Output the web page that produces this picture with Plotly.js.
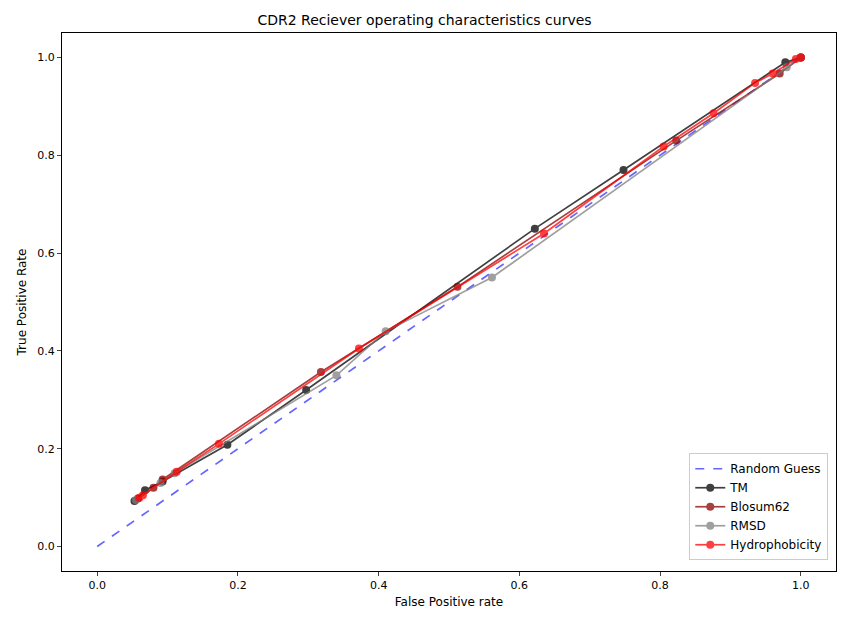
<!DOCTYPE html><html><head><script src="https://cdn.plot.ly/plotly-3.0.1.min.js"></script></head><body style="margin:0"><div id="g" style="width:849px;height:622px"></div><script>
const guessX=[0,1], guessY=[0,1];
const tmX=[0.053,0.068,0.093,0.185,0.297,0.622,0.748,0.978,1];
const tmY=[0.093,0.115,0.133,0.208,0.32,0.65,0.77,0.99,1];
const blX=[0.058,0.08,0.093,0.318,0.512,0.823,0.97,1];
const blY=[0.098,0.12,0.137,0.357,0.531,0.83,0.967,1];
const rmX=[0.055,0.09,0.11,0.34,0.41,0.561,0.98,1];
const rmY=[0.095,0.13,0.15,0.35,0.44,0.55,0.98,1];
const hyX=[0.06,0.065,0.113,0.173,0.372,0.635,0.805,0.876,0.935,0.96,0.993,1];
const hyY=[0.1,0.105,0.153,0.21,0.405,0.64,0.818,0.886,0.948,0.967,0.997,1];
function s(x,y,name,c){return {x,y,name,mode:'lines+markers',opacity:0.75,line:{color:c,width:1.7},marker:{color:c,size:8}};}
const data=[
{x:guessX,y:guessY,name:'Random Guess',mode:'lines',opacity:0.6,line:{color:'blue',dash:'dash',width:1.7}},
s(tmX,tmY,'TM','black'),s(blX,blY,'Blosum62','darkred'),s(rmX,rmY,'RMSD','gray'),s(hyX,hyY,'Hydrophobicity','red')];
const ax={showgrid:false,zeroline:false,showline:true,mirror:true,linecolor:'black',ticks:'outside',ticklen:4,dtick:0.2,tickformat:'.1f',range:[-0.05,1.05],tickfont:{size:11}};
Plotly.newPlot('g',data,{width:849,height:622,font:{family:'DejaVu Sans',color:'black'},
title:{text:'CDR2 Reciever operating characteristics curves',font:{size:14},x:0.5,y:0.975},
margin:{l:62,r:13,t:33,b:51},plot_bgcolor:'white',
xaxis:Object.assign({},ax,{title:{text:'False Positive rate',font:{size:12},standoff:6}}),
yaxis:Object.assign({},ax,{title:{text:'True Positive Rate',font:{size:12},standoff:8}}),
legend:{x:0.99,y:0.02,xanchor:'right',yanchor:'bottom',bordercolor:'#ccc',borderwidth:1,font:{size:12}}},{displayModeBar:false});
</script></body></html>
